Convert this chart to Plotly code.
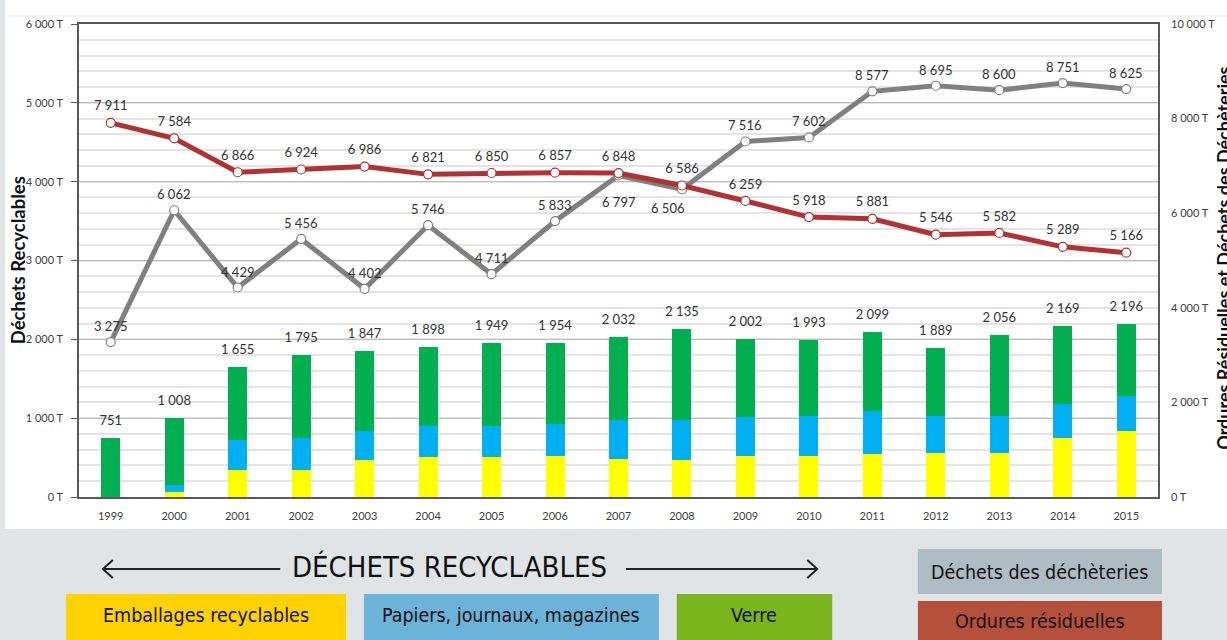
import plotly.graph_objects as go

years = ["1999", "2000", "2001", "2002", "2003", "2004", "2005", "2006", "2007",
         "2008", "2009", "2010", "2011", "2012", "2013", "2014", "2015"]
emballages = [0, 68, 347, 347, 466, 508, 508, 525, 483, 470, 525, 525, 551, 564, 564, 750, 843]
papiers = [0, 85, 373, 399, 377, 399, 399, 407, 492, 505, 492, 500, 546, 466, 466, 424, 437]
verre = [751, 855, 935, 1049, 1004, 991, 1042, 1022, 1057, 1160, 985, 968, 1002, 859, 1026, 995, 916]
totaux = [751, 1008, 1655, 1795, 1847, 1898, 1949, 1954, 2032, 2135, 2002, 1993, 2099, 1889, 2056, 2169, 2196]
decheteries = [3275, 6062, 4429, 5456, 4402, 5746, 4711, 5833, 6797, 6506, 7516, 7602, 8577, 8695, 8600, 8751, 8625]
ordures = [7911, 7584, 6866, 6924, 6986, 6821, 6850, 6857, 6848, 6586, 6259, 5918, 5881, 5546, 5582, 5289, 5166]

left_ticks = [0, 1000, 2000, 3000, 4000, 5000, 6000]
left_ticktext = ["0 T", "1 000 T", "2 000 T", "3 000 T", "4 000 T", "5 000 T", "6 000 T"]
right_ticks = [0, 2000, 4000, 6000, 8000, 10000]
right_ticktext = ["0 T", "2 000 T", "4 000 T", "6 000 T", "8 000 T", "10 000 T"]


def fmt(v):
    return f"{v:,}".replace(",", " ")


# plot area in pixels
L, R, T, B = 79, 1162, 24, 497


def px(x):
    return (x - L) / (R - L)


def py(y):
    return (B - y) / (B - T)


FONT = "Lato, 'Open Sans', sans-serif"
NARROW = "'Liberation Sans Narrow', 'DejaVu Sans Condensed', Roboto, sans-serif"
LBL = dict(family=FONT, size=13, color="#333333")

fig = go.Figure()
fig.add_bar(x=years, y=emballages, marker=dict(color="#FFFF00", line=dict(width=0)), name="Emballages")
fig.add_bar(x=years, y=papiers, marker=dict(color="#00B0F0", line=dict(width=0)), name="Papiers")
fig.add_bar(x=years, y=verre, marker=dict(color="#00B050", line=dict(width=0)), name="Verre")
fig.add_scatter(x=years, y=totaux, mode="markers+text", text=[fmt(v) for v in totaux],
                textposition="top center", marker=dict(size=14, opacity=0),
                textfont=LBL, hoverinfo="skip")

fig.add_scatter(x=years, y=decheteries, yaxis="y2", mode="lines+markers",
                line=dict(color="#808080", width=5),
                marker=dict(size=9, color="white", line=dict(color="#808080", width=1.2)),
                name="Déchèteries")
fig.add_scatter(x=years, y=ordures, yaxis="y2", mode="lines+markers",
                line=dict(color="#B03232", width=5),
                marker=dict(size=9, color="white", line=dict(color="#B03232", width=1.2)),
                name="Ordures")
# labels of the red series
fig.add_scatter(x=years, y=ordures, yaxis="y2", mode="markers+text",
                text=[fmt(v) for v in ordures], textposition="top center",
                marker=dict(size=13, opacity=0), textfont=LBL, hoverinfo="skip")

annotations = []
# grey series labels (offsets vary around 2007-2008 in the original); x given as category index
for i, v in enumerate(decheteries):
    xs, ys = 0, 16
    if i == 8:
        ys = -26
    elif i == 9:
        xs, ys = -14, -19
    annotations.append(dict(x=i, y=v, xref="x", yref="y2", text=fmt(v), showarrow=False,
                            xanchor="center", yanchor="middle", xshift=xs, yshift=ys, font=LBL))

shapes = []
# white chart card
shapes.append(dict(type="rect", xref="paper", yref="paper", x0=px(5), x1=px(1240), y0=py(529), y1=py(-5),
                   fillcolor="white", line=dict(width=0), layer="below"))
shapes.append(dict(type="line", xref="paper", yref="paper", x0=px(5), x1=px(1240), y0=py(16), y1=py(16),
                   line=dict(color="#EEEEEE", width=1), layer="below"))

# arrows
ARC = "#222222"
shapes.append(dict(type="line", xref="paper", yref="paper", x0=px(103), x1=px(281), y0=py(569), y1=py(569),
                   line=dict(color=ARC, width=2)))
shapes.append(dict(type="path", xref="paper", yref="paper",
                   path=f"M {px(113)} {py(560)} L {px(103)} {py(569)} L {px(113)} {py(578)}",
                   line=dict(color=ARC, width=2)))
shapes.append(dict(type="line", xref="paper", yref="paper", x0=px(628), x1=px(820), y0=py(569), y1=py(569),
                   line=dict(color=ARC, width=2)))
shapes.append(dict(type="path", xref="paper", yref="paper",
                   path=f"M {px(810)} {py(560)} L {px(820)} {py(569)} L {px(810)} {py(578)}",
                   line=dict(color=ARC, width=2)))

boxes = [
    (66, 347, 594, 645, 615, "#FFD200", "Emballages recyclables"),
    (365, 661, 594, 645, 615, "#6BB3D9", "Papiers, journaux, magazines"),
    (679, 835, 594, 645, 615, "#7AB51D", "Verre"),
    (921, 1166, 549, 594, 572, "#AEBCC3", "Déchets des déchèteries"),
    (921, 1166, 601, 645, 621, "#B5503B", "Ordures résiduelles"),
]
for x0, x1, y0, y1, cy, col, label in boxes:
    shapes.append(dict(type="rect", xref="paper", yref="paper", x0=px(x0), x1=px(x1), y0=py(y1), y1=py(y0),
                       fillcolor=col, line=dict(width=0)))
    annotations.append(dict(xref="paper", yref="paper", x=px((x0 + x1) / 2), y=py(cy), text=label,
                            showarrow=False, xanchor="center", yanchor="middle",
                            font=dict(family=NARROW, size=19.5, color="#111111")))

annotations.append(dict(xref="paper", yref="paper", x=px(451), y=py(567), text="DÉCHETS RECYCLABLES",
                        showarrow=False, xanchor="center", yanchor="middle",
                        font=dict(family=NARROW, size=29, color="#111111")))
annotations.append(dict(xref="paper", yref="paper", x=px(18), y=py(260), text="<b>Déchets Recyclables</b>",
                        showarrow=False, textangle=-90, xanchor="center", yanchor="middle",
                        font=dict(family=FONT, size=18.5, color="#111111")))
annotations.append(dict(xref="paper", yref="paper", x=px(1228), y=py(258),
                        text="<b>Ordures Résiduelles et Déchets des Déchèteries</b>",
                        showarrow=False, textangle=-90, xanchor="center", yanchor="middle",
                        font=dict(family=FONT, size=18, color="#111111")))

fig.update_layout(
    width=1227, height=640, autosize=False,
    margin=dict(l=L, r=1227 - R, t=T, b=640 - B),
    paper_bgcolor="#E0E4E7", plot_bgcolor="white",
    barmode="stack", bargap=0.7, showlegend=False,
    font=dict(family=FONT, color="#333333"),
    xaxis=dict(type="category", categoryorder="array", categoryarray=years,
               range=[-0.5, len(years) - 0.5], autorange=False,
               showline=True, linecolor="#595959", linewidth=1.5, mirror=True,
               showgrid=False, ticks="", tickfont=dict(size=11, color="#404040"),
               ticklabelstandoff=8, fixedrange=True),
    yaxis=dict(range=[0, 6000], tickvals=left_ticks, ticktext=left_ticktext,
               showline=True, linecolor="#595959", linewidth=1.5, mirror=True,
               showgrid=True, gridcolor="#BDBDBD", gridwidth=1.3, zeroline=False,
               minor=dict(dtick=200, showgrid=True, gridcolor="#E4E4E4", gridwidth=1.5),
               ticks="outside", ticklen=6, tickcolor="#595959",
               tickfont=dict(size=11, color="#404040"), ticklabelstandoff=6),
    yaxis2=dict(range=[0, 10000], tickvals=right_ticks, ticktext=right_ticktext,
                overlaying="y", side="right", showgrid=False, zeroline=False, showline=False,
                tickfont=dict(size=11, color="#404040"), ticklabelstandoff=12),
    shapes=shapes, annotations=annotations,
)

fig.write_html("out.html", config={"displayModeBar": False},
               post_script="document.body.style.margin='0px';document.body.style.overflow='hidden';")
